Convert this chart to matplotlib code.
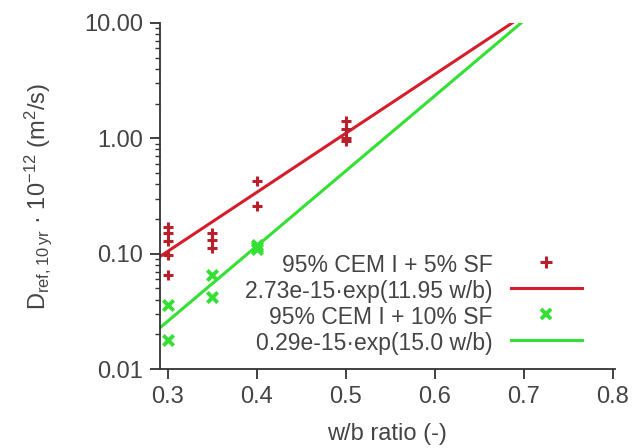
import matplotlib
matplotlib.use("Agg")
import matplotlib.pyplot as plt
from matplotlib.lines import Line2D
from matplotlib.ticker import FixedLocator, LogLocator, NullFormatter

plt.rcParams['font.family'] = ['Liberation Sans', 'DejaVu Sans']
plt.rcParams['mathtext.default'] = 'regular'

# Data: 95% CEM I + 5% SF
wb_sf5 = [0.3, 0.3, 0.3, 0.3, 0.3, 0.35, 0.35, 0.35, 0.4, 0.4, 0.5, 0.5, 0.5, 0.5]
d_sf5 = [0.17, 0.15, 0.13, 0.097, 0.066, 0.151, 0.131, 0.112, 0.43, 0.26, 1.40, 1.20, 1.00, 0.95]
# Data: 95% CEM I + 10% SF
wb_sf10 = [0.3, 0.3, 0.35, 0.35, 0.4, 0.4, 0.4]
d_sf10 = [0.036, 0.018, 0.065, 0.042, 0.110, 0.115, 0.120]
# Fit line endpoints
fit5_x = [0.291, 0.687]
fit5_y = [0.0945, 10.0]
fit10_x = [0.291, 0.697]
fit10_y = [0.0228, 10.0]

labels = ['95% CEM I + 5% SF', '2.73e-15·exp(11.95 w/b)',
          '95% CEM I + 10% SF', '0.29e-15·exp(15.0 w/b)']
xticks = [0.3, 0.4, 0.5, 0.6, 0.7, 0.8]
yticks = [0.01, 0.1, 1.0, 10.0]
yticklabels = ['0.01', '0.10', '1.00', '10.00']

red = '#d41f2a'
red_m = '#b8202c'
green = '#33e033'

fig = plt.figure(figsize=(6.37, 4.48), dpi=100)
ax = fig.add_axes([0.251, 0.176, 0.714, 0.773])

l1, = ax.plot(fit5_x, fit5_y, color=red, lw=2.2)
l2, = ax.plot(fit10_x, fit10_y, color=green, lw=2.2)
s1 = ax.scatter(wb_sf5, d_sf5, marker='+', s=50, color=red_m, linewidths=2.2, zorder=3)
s2 = ax.scatter(wb_sf10, d_sf10, marker='x', s=55, color=green, linewidths=2.8, zorder=3)

ax.set_yscale('log')
ax.set_ylim(0.01, 10)
ax.set_xlim(0.291, 0.802)
ax.set_xticks(xticks)
ax.set_xticklabels([f'{v:.1f}' for v in xticks])
ax.yaxis.set_major_locator(FixedLocator(yticks))
ax.set_yticklabels(yticklabels)
ax.yaxis.set_minor_locator(LogLocator(base=10, subs=range(2, 10)))
ax.yaxis.set_minor_formatter(NullFormatter())

for s in ['top', 'right']:
    ax.spines[s].set_visible(False)
for s in ['left', 'bottom']:
    ax.spines[s].set_linewidth(1.3)
    ax.spines[s].set_color('#333333')
ax.tick_params(axis='both', which='major', labelsize=17, direction='out',
               length=7, width=1.3, colors='#333333', labelcolor='#444444', pad=5)
ax.tick_params(axis='y', which='minor', direction='out', length=3.5, width=1.0, colors='#333333')

ax.set_xlabel('w/b ratio (-)', fontsize=17, color='#444444', labelpad=11)
ax.set_ylabel(r'D$_{ref,10\,yr}$ · 10$^{-12}$ (m$^2$/s)', fontsize=17,
              color='#444444', labelpad=22)

handles = [Line2D([], [], ls='none', marker='+', color=red_m, ms=8, mew=2.2),
           Line2D([], [], color=red, lw=2.2),
           Line2D([], [], ls='none', marker='x', color=green, ms=7, mew=2.8),
           Line2D([], [], color=green, lw=2.2)]
leg = ax.legend(handles, labels, loc='lower right', bbox_to_anchor=(0.958, 0.0),
                frameon=False, fontsize=16.5, markerfirst=False, handlelength=3.1,
                handletextpad=0.8, labelspacing=0.14, borderaxespad=0.2)
for t in leg.get_texts():
    t.set_ha('right')
    t.set_color('#444444')
leg._legend_box.align = 'right'
for vp in leg._legend_handle_box.get_children():
    for c in vp.get_children():
        c.align = 'right'

fig.savefig('out.png', dpi=100)
